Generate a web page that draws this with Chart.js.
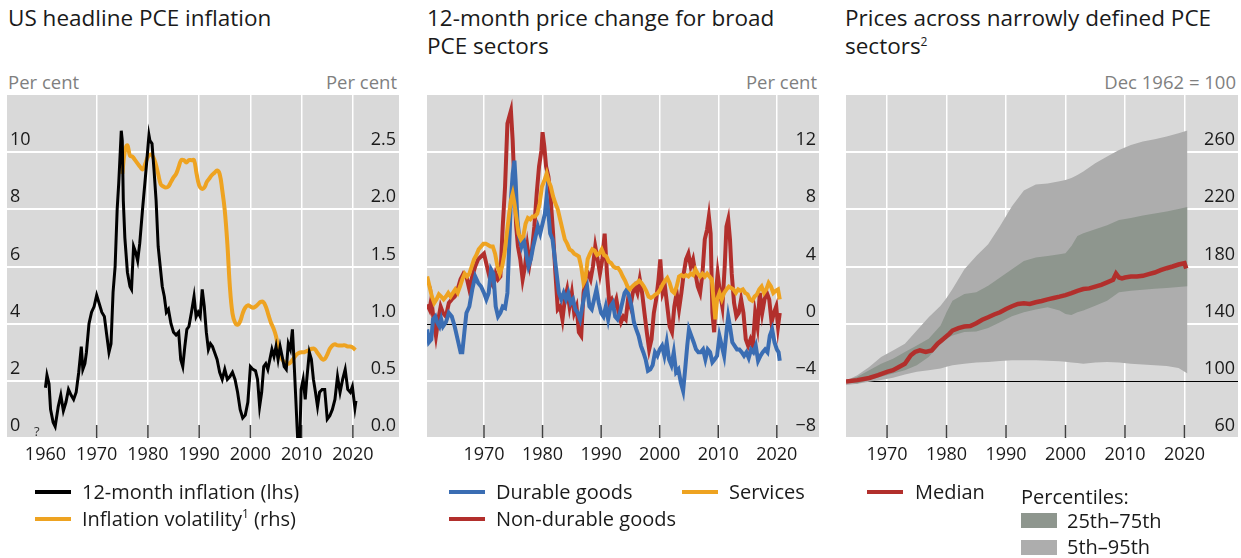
<!DOCTYPE html>
<html>
<head>
<meta charset="utf-8">
<script src="https://cdn.jsdelivr.net/npm/chart.js@4.4.1/dist/chart.umd.min.js"></script>
<style>
  body { margin: 0; width: 1241px; height: 558px; background: #fff; position: relative; overflow: hidden;
         font-family: "Open Sans", sans-serif; color: #1a1a1a; }
  .title { position: absolute; top: 4px; font-size: 22.5px; line-height: 28px; white-space: nowrap; }
  .unit { position: absolute; top: 69px; font-size: 18.5px; line-height: 26px; color: #7f7f7f; white-space: nowrap; }
  .box { position: absolute; top: 95px; width: 392px; height: 383px; }
  .leg { position: absolute; font-size: 20px; line-height: 26px; white-space: nowrap; }
  .sw { position: absolute; width: 36px; height: 4px; }
  .blk { position: absolute; width: 36px; height: 15px; }
  sup { font-size: 12px; line-height: 0; }
</style>
</head>
<body>

<div class="title" style="left:8px">US headline PCE inflation</div>
<div class="unit" style="left:8px">Per cent</div>
<div class="unit" style="right:844px">Per cent</div>
<div class="box" style="left:7px"><canvas id="c1" width="392" height="383"></canvas></div>
<div style="position:absolute;left:34px;top:422px;font-size:13px;color:#333">?</div>

<div class="title" style="left:427px">12-month price change for broad<br>PCE sectors</div>
<div class="unit" style="right:424px">Per cent</div>
<div class="box" style="left:427px"><canvas id="c2" width="392" height="383"></canvas></div>

<div class="title" style="left:845px">Prices across narrowly defined PCE<br>sectors<sup>2</sup></div>
<div class="unit" style="right:5px">Dec 1962 = 100</div>
<div class="box" style="left:846px"><canvas id="c3" width="392" height="383"></canvas></div>

<!-- legends -->
<div class="sw" style="left:35px;top:490px;background:#000"></div>
<div class="leg" style="left:82px;top:479px">12-month inflation (lhs)</div>
<div class="sw" style="left:35px;top:517px;background:#eea321"></div>
<div class="leg" style="left:82px;top:506px">Inflation volatility<sup>1</sup> (rhs)</div>

<div class="sw" style="left:449px;top:490px;background:#3a6db3"></div>
<div class="leg" style="left:496px;top:479px">Durable goods</div>
<div class="sw" style="left:682px;top:490px;background:#eea321"></div>
<div class="leg" style="left:729px;top:479px">Services</div>
<div class="sw" style="left:449px;top:517px;background:#b22f2c"></div>
<div class="leg" style="left:496px;top:506px">Non-durable goods</div>

<div class="sw" style="left:867px;top:490px;background:#b22f2c"></div>
<div class="leg" style="left:915px;top:479px">Median</div>
<div class="leg" style="left:1021px;top:484px">Percentiles:</div>
<div class="blk" style="left:1021px;top:513px;background:#8e968e"></div>
<div class="leg" style="left:1067px;top:508px">25th–75th</div>
<div class="blk" style="left:1021px;top:540px;background:#adadad"></div>
<div class="leg" style="left:1067px;top:534px">5th–95th</div>

<script>
// --- DATA ---
// panel 1: headline PCE inflation (lhs) and inflation volatility (rhs)
const inflYears = [1960.0, 1960.3, 1960.7, 1961.0, 1961.5, 1961.9, 1962.5, 1963.0, 1963.5, 1964.0, 1964.5, 1965.0, 1965.5, 1966.0, 1966.5, 1967.0, 1967.3, 1967.7, 1968.0, 1968.5, 1969.0, 1969.5, 1970.0, 1970.5, 1971.0, 1971.5, 1972.0, 1972.4, 1972.8, 1973.2, 1973.6, 1974.0, 1974.3, 1974.8, 1975.0, 1975.2, 1975.5, 1976.0, 1976.5, 1976.8, 1977.2, 1977.6, 1978.0, 1978.4, 1979.0, 1979.5, 1980.2, 1980.4, 1980.8, 1981.2, 1981.6, 1982.0, 1982.4, 1982.8, 1983.2, 1983.6, 1984.0, 1984.5, 1985.0, 1985.5, 1986.0, 1986.4, 1986.8, 1987.2, 1987.6, 1988.0, 1988.5, 1989.0, 1989.4, 1989.8, 1990.2, 1990.6, 1991.0, 1991.4, 1991.8, 1992.2, 1992.6, 1993.0, 1993.5, 1994.0, 1994.5, 1995.0, 1995.5, 1996.0, 1996.5, 1997.0, 1997.5, 1998.0, 1998.5, 1999.0, 1999.5, 2000.0, 2000.5, 2001.0, 2001.4, 2001.8, 2002.2, 2002.6, 2003.0, 2003.4, 2003.8, 2004.2, 2004.6, 2005.0, 2005.4, 2005.8, 2006.2, 2006.6, 2007.0, 2007.4, 2007.8, 2008.2, 2008.5, 2008.8, 2009.1, 2009.5, 2009.9, 2010.3, 2010.7, 2011.0, 2011.5, 2011.9, 2012.3, 2012.7, 2013.1, 2013.5, 2014.0, 2014.5, 2015.0, 2015.5, 2016.0, 2016.5, 2017.0, 2017.5, 2018.0, 2018.5, 2019.0, 2019.5, 2019.9, 2020.2, 2020.4, 2020.6];
const inflValues = [1.76, 2.2, 1.9, 1.0, 0.55, 0.4, 1.1, 1.5, 0.95, 1.25, 1.7, 1.5, 1.35, 1.6, 2.3, 3.2, 2.4, 2.6, 3.0, 4.0, 4.4, 4.6, 5.0, 4.7, 4.4, 4.25, 3.55, 3.0, 3.3, 5.1, 6.0, 8.0, 8.9, 10.75, 10.4, 8.3, 7.0, 5.8, 5.3, 5.2, 6.7, 6.5, 6.2, 6.8, 8.1, 9.1, 10.6, 10.4, 10.3, 9.35, 8.3, 6.7, 6.0, 5.3, 4.95, 4.4, 4.5, 4.0, 3.7, 3.6, 3.7, 2.75, 2.5, 3.2, 3.8, 3.9, 4.4, 4.95, 4.25, 4.4, 4.25, 5.2, 4.6, 3.7, 3.1, 3.3, 3.2, 3.0, 2.75, 2.3, 2.05, 2.4, 2.05, 2.15, 2.3, 2.05, 1.6, 1.0, 0.7, 0.8, 1.25, 2.5, 2.4, 2.35, 2.05, 1.1, 1.6, 2.5, 2.6, 2.4, 2.75, 3.1, 2.85, 3.2, 2.75, 3.2, 2.85, 2.5, 2.4, 3.3, 3.1, 3.8, 2.75, 1.6, 0.43, -1.0, 1.7, 2.05, 1.35, 2.05, 3.0, 2.75, 2.05, 1.6, 1.1, 1.6, 1.7, 1.7, 0.66, 0.78, 1.0, 1.35, 2.15, 1.6, 2.05, 2.4, 1.7, 1.6, 1.8, 1.35, 1.05, 1.3];

const volYears = [1975.0, 1975.5, 1976.0, 1976.5, 1977.0, 1977.5, 1978.0, 1978.5, 1979.0, 1979.5, 1980.0, 1980.5, 1981.0, 1981.5, 1982.0, 1982.5, 1983.0, 1983.5, 1984.0, 1984.5, 1985.0, 1985.5, 1986.0, 1986.5, 1987.0, 1987.5, 1988.0, 1988.5, 1989.0, 1989.5, 1990.0, 1990.5, 1991.0, 1991.5, 1992.0, 1992.5, 1993.0, 1993.5, 1994.0, 1994.5, 1995.0, 1995.5, 1996.0, 1996.5, 1997.0, 1997.5, 1998.0, 1998.5, 1999.0, 1999.5, 2000.0, 2000.5, 2001.0, 2001.5, 2002.0, 2002.5, 2003.0, 2003.5, 2004.0, 2004.5, 2005.0, 2005.5, 2006.0, 2006.5, 2007.0, 2007.5, 2008.0, 2008.5, 2009.0, 2009.5, 2010.0, 2010.5, 2011.0, 2011.5, 2012.0, 2012.5, 2013.0, 2013.5, 2014.0, 2014.5, 2015.0, 2015.5, 2016.0, 2016.5, 2017.0, 2017.5, 2018.0, 2018.5, 2019.0, 2019.5, 2020.0, 2020.5];
const volValues = [2.31, 2.51, 2.56, 2.47, 2.46, 2.43, 2.40, 2.37, 2.35, 2.40, 2.46, 2.48, 2.46, 2.40, 2.31, 2.22, 2.20, 2.19, 2.20, 2.24, 2.28, 2.31, 2.37, 2.43, 2.43, 2.41, 2.43, 2.43, 2.43, 2.31, 2.21, 2.18, 2.19, 2.24, 2.27, 2.30, 2.32, 2.34, 2.31, 2.17, 1.99, 1.70, 1.32, 1.09, 1.01, 0.99, 1.02, 1.09, 1.14, 1.16, 1.15, 1.14, 1.15, 1.17, 1.19, 1.19, 1.15, 1.08, 1.01, 0.96, 0.89, 0.77, 0.70, 0.67, 0.65, 0.65, 0.67, 0.70, 0.73, 0.745, 0.75, 0.75, 0.76, 0.77, 0.78, 0.78, 0.75, 0.72, 0.69, 0.69, 0.73, 0.78, 0.81, 0.82, 0.81, 0.81, 0.81, 0.81, 0.80, 0.80, 0.79, 0.77];

// panel 2: 12-month price change by broad sector
const durYears = [1960.3, 1960.6, 1961.0, 1961.3, 1961.7, 1962.0, 1962.4, 1962.7, 1963.0, 1963.5, 1964.0, 1964.5, 1965.0, 1965.5, 1966.0, 1966.3, 1966.7, 1967.0, 1967.5, 1968.0, 1968.5, 1969.0, 1969.5, 1970.0, 1970.4, 1970.8, 1971.2, 1971.6, 1972.0, 1972.4, 1972.8, 1973.2, 1973.6, 1974.0, 1974.3, 1974.6, 1974.9, 1975.2, 1975.4, 1975.7, 1976.0, 1976.4, 1976.8, 1977.2, 1977.6, 1978.0, 1978.4, 1978.8, 1979.2, 1979.6, 1980.0, 1980.4, 1980.7, 1981.0, 1981.3, 1981.7, 1982.0, 1982.4, 1982.8, 1983.2, 1983.6, 1984.0, 1984.4, 1984.8, 1985.2, 1985.6, 1986.0, 1986.4, 1986.8, 1987.2, 1987.6, 1988.0, 1988.4, 1988.8, 1989.2, 1989.6, 1990.0, 1990.4, 1990.8, 1991.2, 1991.6, 1992.0, 1992.4, 1992.8, 1993.2, 1993.6, 1994.0, 1994.4, 1994.8, 1995.2, 1995.6, 1996.0, 1996.4, 1996.8, 1997.2, 1997.6, 1998.0, 1998.4, 1998.8, 1999.2, 1999.6, 2000.0, 2000.4, 2000.8, 2001.2, 2001.6, 2002.0, 2002.4, 2002.8, 2003.2, 2003.6, 2004.0, 2004.3, 2004.7, 2005.0, 2005.4, 2005.8, 2006.2, 2006.6, 2007.0, 2007.4, 2007.8, 2008.2, 2008.6, 2009.0, 2009.4, 2009.8, 2010.2, 2010.6, 2011.0, 2011.4, 2011.7, 2012.0, 2012.4, 2012.8, 2013.2, 2013.6, 2014.0, 2014.4, 2014.8, 2015.2, 2015.6, 2016.0, 2016.4, 2016.8, 2017.2, 2017.6, 2018.0, 2018.4, 2018.8, 2019.2, 2019.6, 2020.0, 2020.3, 2020.5];
const durValues = [-0.4, -1.3, -1.1, 0.3, 0.5, 0.1, -0.2, 0.3, -0.2, 0.1, 0.75, 0.5, -0.2, -1.1, -2.0, -2.0, -0.4, 0.75, 1.2, 2.4, 3.3, 2.85, 2.6, 2.15, 1.7, 2.15, 3.8, 3.5, 1.2, 0.5, 0.75, 1.2, 1.1, 2.15, 5.4, 8.65, 10.5, 11.4, 10.0, 7.3, 6.1, 5.4, 5.9, 4.9, 4.0, 4.5, 5.4, 6.1, 6.8, 6.3, 7.0, 7.7, 8.9, 7.7, 6.3, 5.9, 4.9, 3.5, 2.15, 1.7, 2.15, 1.7, 2.15, 1.45, 1.7, 1.0, 0.75, 0.3, 1.2, 2.15, 2.6, 1.2, 1.0, 1.7, 2.4, 1.45, 0.75, 0.5, 1.2, 0.3, 1.2, 1.45, 0.5, 0.3, 0.75, 1.45, 2.15, 2.4, 1.9, 1.2, 0.1, -0.4, -0.85, -1.55, -2.0, -2.5, -3.3, -3.2, -2.9, -2.0, -2.25, -1.8, -1.55, -2.25, -1.3, -2.5, -2.9, -2.0, -3.4, -3.2, -4.1, -4.7, -3.4, -1.55, -0.4, -0.85, -1.3, -1.8, -2.0, -2.0, -1.8, -2.5, -1.8, -2.0, -2.7, -2.5, -2.25, -0.85, -1.55, -2.25, -0.6, 0.5, -0.2, -1.3, -1.55, -1.8, -1.8, -2.0, -2.25, -2.0, -2.4, -1.8, -2.0, -1.55, -2.6, -2.25, -2.0, -1.8, -2.0, -0.85, -0.4, -1.3, -1.8, -2.0, -2.6];

const nondurYears = [1960.3, 1960.7, 1961.0, 1961.4, 1961.8, 1962.2, 1962.6, 1963.0, 1963.5, 1964.0, 1964.5, 1965.0, 1965.5, 1966.0, 1966.5, 1967.0, 1967.5, 1968.0, 1968.5, 1969.0, 1969.5, 1970.0, 1970.4, 1970.8, 1971.2, 1971.6, 1972.0, 1972.4, 1972.8, 1973.2, 1973.6, 1974.0, 1974.3, 1974.6, 1974.9, 1975.2, 1975.5, 1975.8, 1976.2, 1976.6, 1977.0, 1977.4, 1977.8, 1978.2, 1978.6, 1979.0, 1979.4, 1979.8, 1980.0, 1980.3, 1980.6, 1981.0, 1981.4, 1981.8, 1982.2, 1982.6, 1983.0, 1983.4, 1983.8, 1984.2, 1984.6, 1985.0, 1985.4, 1985.8, 1986.2, 1986.6, 1987.0, 1987.4, 1987.8, 1988.2, 1988.6, 1989.0, 1989.4, 1989.8, 1990.2, 1990.6, 1991.0, 1991.4, 1991.8, 1992.2, 1992.6, 1993.0, 1993.4, 1993.8, 1994.2, 1994.6, 1995.0, 1995.4, 1995.8, 1996.2, 1996.6, 1997.0, 1997.4, 1997.8, 1998.2, 1998.6, 1999.0, 1999.4, 1999.8, 2000.1, 2000.5, 2000.9, 2001.3, 2001.7, 2002.1, 2002.5, 2002.9, 2003.3, 2003.7, 2004.1, 2004.5, 2004.9, 2005.3, 2005.7, 2006.1, 2006.5, 2006.9, 2007.3, 2007.7, 2008.1, 2008.4, 2008.7, 2009.0, 2009.3, 2009.6, 2009.9, 2010.3, 2010.7, 2011.1, 2011.4, 2011.7, 2012.0, 2012.3, 2012.7, 2013.1, 2013.5, 2013.9, 2014.3, 2014.7, 2015.1, 2015.5, 2015.9, 2016.3, 2016.7, 2017.1, 2017.5, 2017.9, 2018.3, 2018.7, 2019.1, 2019.5, 2019.9, 2020.2, 2020.5];
const nondurValues = [1.35, 1.0, 1.7, 0.3, -0.85, 0.3, 1.2, 0.75, 0.5, 1.45, 1.7, 1.9, 2.4, 3.1, 3.5, 3.3, 2.4, 3.3, 4.0, 4.5, 4.7, 4.9, 4.2, 3.5, 2.85, 2.6, 3.5, 3.1, 3.3, 6.8, 9.6, 14.0, 14.45, 14.9, 12.8, 9.6, 6.8, 5.4, 4.5, 3.1, 4.0, 5.4, 4.2, 5.2, 6.8, 9.1, 11.0, 12.1, 13.4, 12.4, 11.0, 10.3, 8.65, 6.3, 3.5, 1.0, 1.2, 0.3, 1.7, 2.4, 1.2, 2.15, 0.75, 1.2, -0.6, -0.85, 2.15, 3.3, 3.5, 3.1, 4.0, 5.4, 4.5, 3.5, 4.5, 6.3, 3.5, 1.45, 1.7, 1.2, 1.7, 0.75, 0.1, 0.5, 0.3, 1.7, 1.2, 2.15, 2.6, 2.15, 3.1, 2.15, 0.75, -0.6, -1.8, -1.1, 0.75, 1.7, 3.1, 4.5, 2.15, 2.6, 1.2, -0.2, -0.6, 1.2, 2.15, 1.0, 2.15, 3.5, 4.5, 4.9, 4.0, 4.5, 3.5, 2.6, 2.15, 3.5, 5.9, 6.6, 7.5, 6.3, 0.75, -0.6, 2.15, 3.5, 2.15, 1.2, 4.0, 6.8, 7.3, 5.9, 3.5, 1.45, 0.5, 0.75, 1.7, 0.75, -1.1, -1.55, -1.1, -1.55, 0.75, -0.2, 2.15, 0.75, 1.7, 2.15, 1.7, 0.1, 0.75, 1.2, -0.2, 0.75];

const servYears = [1960.3, 1960.7, 1961.1, 1961.5, 1961.9, 1962.3, 1962.7, 1963.1, 1963.5, 1963.9, 1964.3, 1964.7, 1965.1, 1965.5, 1965.9, 1966.3, 1966.7, 1967.1, 1967.5, 1967.9, 1968.3, 1968.7, 1969.1, 1969.5, 1969.9, 1970.3, 1970.7, 1971.1, 1971.5, 1971.9, 1972.3, 1972.7, 1973.1, 1973.5, 1973.9, 1974.3, 1974.6, 1974.9, 1975.2, 1975.5, 1975.9, 1976.3, 1976.7, 1977.1, 1977.5, 1977.9, 1978.3, 1978.7, 1979.1, 1979.5, 1979.9, 1980.3, 1980.7, 1981.0, 1981.4, 1981.8, 1982.2, 1982.6, 1983.0, 1983.4, 1983.8, 1984.2, 1984.6, 1985.0, 1985.4, 1985.8, 1986.2, 1986.6, 1987.0, 1987.3, 1987.7, 1988.1, 1988.5, 1988.9, 1989.3, 1989.7, 1990.1, 1990.5, 1990.9, 1991.3, 1991.7, 1992.1, 1992.5, 1992.9, 1993.3, 1993.7, 1994.1, 1994.5, 1994.9, 1995.3, 1995.7, 1996.1, 1996.5, 1996.9, 1997.3, 1997.7, 1998.1, 1998.5, 1998.9, 1999.3, 1999.7, 2000.1, 2000.5, 2000.9, 2001.3, 2001.7, 2002.1, 2002.5, 2002.9, 2003.3, 2003.7, 2004.1, 2004.5, 2004.9, 2005.3, 2005.7, 2006.1, 2006.5, 2006.9, 2007.3, 2007.7, 2008.1, 2008.5, 2008.9, 2009.2, 2009.5, 2009.8, 2010.2, 2010.6, 2011.0, 2011.4, 2011.8, 2012.2, 2012.6, 2013.0, 2013.4, 2013.8, 2014.2, 2014.6, 2015.0, 2015.4, 2015.8, 2016.2, 2016.6, 2017.0, 2017.4, 2017.8, 2018.2, 2018.6, 2019.0, 2019.4, 2019.8, 2020.2, 2020.5];
const servValues = [3.3, 2.6, 1.9, 1.45, 1.7, 2.05, 1.9, 1.7, 1.9, 2.15, 1.9, 2.15, 2.4, 2.15, 2.6, 3.1, 3.5, 3.3, 3.5, 4.0, 4.5, 4.8, 5.2, 5.4, 5.6, 5.6, 5.5, 5.4, 5.4, 4.9, 4.0, 3.5, 4.0, 4.9, 6.3, 7.7, 8.65, 9.1, 8.4, 7.5, 6.3, 5.9, 6.1, 7.0, 7.4, 7.3, 7.5, 7.5, 7.7, 8.4, 9.6, 10.0, 10.5, 10.0, 9.6, 8.9, 8.4, 8.0, 7.3, 6.6, 5.9, 5.6, 5.2, 5.1, 4.9, 4.8, 4.7, 4.0, 2.85, 3.1, 4.5, 4.9, 5.2, 5.1, 4.8, 4.9, 5.2, 4.8, 4.7, 4.35, 4.25, 4.0, 3.9, 3.9, 3.65, 3.3, 3.0, 2.6, 2.4, 2.6, 2.75, 2.85, 3.0, 2.85, 2.6, 2.3, 1.9, 1.8, 1.9, 2.05, 2.15, 2.4, 2.75, 3.0, 3.2, 2.85, 2.3, 2.15, 2.6, 3.3, 3.4, 3.3, 3.4, 3.3, 3.5, 3.4, 3.8, 3.5, 3.3, 3.5, 3.3, 3.5, 3.3, 3.1, 1.7, 0.3, 1.7, 2.15, 1.7, 2.15, 2.4, 2.6, 2.5, 2.4, 2.15, 2.4, 2.3, 2.4, 2.15, 2.05, 1.7, 1.6, 1.9, 2.05, 2.4, 2.6, 2.15, 2.4, 2.85, 2.6, 2.15, 2.3, 2.4, 1.7];

// panel 3: prices across narrow sectors, Dec 1962 = 100
const medYears = [1963.1, 1965, 1967, 1968.5, 1970, 1971, 1972, 1973, 1974, 1974.7, 1975.5, 1976.5, 1977.5, 1978.5, 1979.5, 1980.5, 1981, 1982, 1983, 1984, 1985, 1986, 1987, 1988, 1989, 1990, 1991, 1992, 1993, 1994, 1995, 1996, 1997, 1998, 1999, 2000, 2001, 2002, 2003, 2004, 2005, 2006, 2007, 2008, 2008.5, 2009, 2009.5, 2010, 2011, 2012, 2013, 2014, 2015, 2016, 2017, 2018, 2019, 2020, 2020.3];
const medValues = [99.5, 100.5, 102, 104, 106.3, 107.4, 109.7, 112, 117.9, 120.2, 121.3, 120.2, 121.3, 126, 129.4, 133, 135.2, 136.9, 138, 138.3, 140.3, 142.7, 144.5, 146.4, 148, 150.3, 152.2, 153.8, 154.3, 153.8, 155, 155.9, 157, 158, 158.9, 160, 161.4, 163, 164.2, 164.7, 165.9, 167.2, 168.9, 170.7, 175.1, 172.3, 171.7, 172.3, 173, 173, 173.5, 174.7, 175.8, 177.4, 178.8, 180, 181.4, 182.3, 178.6];

const bandYears = [1963.1, 1965, 1967, 1969, 1971, 1973, 1975, 1977, 1979, 1980, 1981, 1983, 1985, 1987, 1989, 1991, 1993, 1995, 1997, 1999, 2000, 2001, 2002, 2003, 2005, 2007, 2009, 2011, 2013, 2015, 2017, 2019, 2020.5];
const p75 = [100, 102.8, 107.4, 112, 115.5, 120.2, 124.8, 129.4, 138.7, 148, 156.1, 160.8, 161.9, 166.5, 172.3, 178.1, 183.9, 186.3, 187.4, 188.6, 189.3, 194.4, 201.3, 203.2, 206, 208.8, 212.5, 214, 215.6, 217, 218.5, 220.2, 221.7];
const p25 = [99, 98.1, 100.5, 102.8, 105.1, 107.4, 110.9, 116.7, 126, 129.4, 131.8, 134.1, 134.6, 136.9, 141, 145.2, 148, 149.9, 151.5, 149.2, 146.8, 146.1, 148, 149.2, 152.6, 156.1, 161.9, 163, 163.8, 164.5, 165, 165.6, 166.1];
const p95 = [100, 103.9, 109.7, 116.7, 121.3, 126, 135.2, 144.5, 152.6, 158, 164.2, 178.1, 187.4, 195.5, 208.3, 222.2, 233.1, 237.3, 238, 239.6, 240.5, 241.9, 244, 246.5, 252.3, 257, 261.6, 265.1, 267.4, 269, 270.9, 273.2, 275.1];
const p5 = [97, 98, 99.3, 100.5, 102.1, 104.4, 106.3, 107.4, 108.6, 109.8, 110.9, 112, 112.8, 113.2, 113.9, 114.4, 114.4, 114.4, 114.1, 113.7, 113.3, 112.8, 112.4, 112, 112.8, 113.2, 112.8, 112, 111.4, 110.9, 110.4, 109, 105.1];

// tick labels
const xTicks1 = [1960, 1970, 1980, 1990, 2000, 2010, 2020];
const xTicks23 = [1970, 1980, 1990, 2000, 2010, 2020];
const yTicksLeft1 = [0, 2, 4, 6, 8, 10, 12];
const yTicksRight1 = [0, 0.5, 1.0, 1.5, 2.0, 2.5, 3.0];
const yTicks2 = [-8, -4, 0, 4, 8, 12, 16];
const yTicks3 = [60, 100, 140, 180, 220, 260, 300];

// --- HELPERS ---
const pts = (xs, ys) => xs.map((x, i) => ({ x: x, y: ys[i] }));
const NONE = 'rgba(0,0,0,0)';

Chart.defaults.font.family = '"Open Sans", sans-serif';
Chart.defaults.font.size = 18;
Chart.defaults.color = '#1a1a1a';

// white horizontal grid lines as 2px bars at the y scale's ticks (top tick skipped)
function hGrid(chart, opts) {
    const a = chart.chartArea, ctx = chart.ctx;
    const y = chart.scales[opts.yAxis || 'y'];
    if (!y || !y.ticks.length) return;
    const top = y.ticks[y.ticks.length - 1].value;
    ctx.save();
    ctx.globalAlpha = 1;
    ctx.globalCompositeOperation = 'source-over';
    ctx.fillStyle = '#ffffff';
    y.ticks.forEach(t => {
        if (t.value === top || t.value === opts.refLine) return;
        const py = Math.round(y.getPixelForValue(t.value));
        ctx.fillRect(a.left, py - 1, a.right - a.left, 2);
    });
    ctx.restore();
}

// grey plot background, grid, reference line and short dark x tick marks inside the plot
const plotDecor = {
    id: 'plotDecor',
    beforeDraw(chart, args, opts) {
        const a = chart.chartArea, ctx = chart.ctx;
        ctx.save();
        ctx.fillStyle = '#d9d9d9';
        ctx.fillRect(a.left, a.top, a.right - a.left, a.bottom - a.top);
        ctx.restore();
        hGrid(chart, opts);
    },
    beforeDatasetsDraw(chart, args, opts) {
        hGrid(chart, opts);
        const a = chart.chartArea, ctx = chart.ctx;
        ctx.save();
        if (opts.refLine !== undefined) {
            const y = chart.scales[opts.yAxis || 'y'];
            const py = Math.round(y.getPixelForValue(opts.refLine));
            ctx.fillStyle = '#000';
            ctx.fillRect(a.left, py, a.right - a.left, 1);
        }
        const x = chart.scales.x;
        const skip = opts.skip || [];
        ctx.strokeStyle = '#404040';
        ctx.lineWidth = 1.5;
        x.ticks.forEach(t => {
            if (skip.includes(t.value)) return;
            const px = x.getPixelForValue(t.value);
            ctx.beginPath();
            ctx.moveTo(px, a.bottom);
            ctx.lineTo(px, a.bottom - 13);
            ctx.stroke();
        });
        ctx.restore();
    }
};

// no extra room around the axes: the plot fills the canvas, x labels get 40px
function noPad(s) {
    s.paddingTop = 0; s.paddingBottom = 0; s.paddingLeft = 0; s.paddingRight = 0;
}

function xScale(min, max, ticks, hide) {
    hide = hide || [];
    return {
        type: 'linear', min: min, max: max,
        afterBuildTicks: s => { s.ticks = ticks.map(v => ({ value: v })); },
        afterFit: s => { s.height = 40; noPad(s); },
        border: { display: false },
        grid: { drawTicks: false, lineWidth: 1.5,
                color: ticks.map(v => hide.includes(v) ? NONE : '#fff') },
        ticks: { padding: 6, maxRotation: 0, autoSkip: false, callback: v => String(v) }
    };
}

function yScale(position, ticks, fmt) {
    const top = ticks[ticks.length - 1];
    return {
        type: 'linear', position: position,
        min: ticks[0], max: top,
        afterBuildTicks: s => { s.ticks = ticks.map(v => ({ value: v })); },
        afterFit: s => { s.width = 0; noPad(s); },
        border: { display: false },
        grid: { display: false },
        ticks: { mirror: true, padding: position === 'left' ? 3 : -3, labelOffset: -12, autoSkip: false,
                 callback: v => v === top ? '' : fmt(v) }
    };
}

const baseOpts = {
    responsive: false,
    animation: false,
    layout: { padding: 0 },
    elements: { point: { radius: 0 } }
};
const noLegend = { legend: { display: false }, tooltip: { enabled: false } };

// --- PANEL 1 ---
new Chart(document.getElementById('c1'), {
    type: 'line',
    data: {
        datasets: [
            { data: pts(inflYears, inflValues), yAxisID: 'y', borderColor: '#000', borderWidth: 3, tension: 0 },
            { data: pts(volYears, volValues), yAxisID: 'y1', borderColor: '#eea321', borderWidth: 4, tension: 0.4 }
        ]
    },
    options: {
        ...baseOpts,
        plugins: { ...noLegend, plotDecor: { yAxis: 'y', skip: [1960] } },
        scales: {
            x: xScale(1952.5, 2029.0, xTicks1, [1960]),
            y: yScale('left', yTicksLeft1, v => String(v)),
            y1: yScale('right', yTicksRight1, v => v.toFixed(1))
        }
    },
    plugins: [plotDecor]
});

// --- PANEL 2 ---
const minus = v => (v < 0 ? '\u2212' + Math.abs(v) : String(v));
new Chart(document.getElementById('c2'), {
    type: 'line',
    data: {
        datasets: [
            { data: pts(servYears, servValues), borderColor: '#eea321', borderWidth: 4, tension: 0 },
            { data: pts(durYears, durValues), borderColor: '#3a6db3', borderWidth: 4, tension: 0 },
            { data: pts(nondurYears, nondurValues), borderColor: '#b22f2c', borderWidth: 4, tension: 0 }
        ]
    },
    options: {
        ...baseOpts,
        plugins: { ...noLegend, plotDecor: { yAxis: 'y', refLine: 0 } },
        scales: {
            x: xScale(1960.27, 2027.2, xTicks23),
            y: yScale('right', yTicks2, minus)
        }
    },
    plugins: [plotDecor]
});

// --- PANEL 3 ---
new Chart(document.getElementById('c3'), {
    type: 'line',
    data: {
        datasets: [
            { data: pts(medYears, medValues), borderColor: '#b22f2c', borderWidth: 4.5, tension: 0 },
            { data: pts(bandYears, p75), borderWidth: 0, borderColor: NONE, backgroundColor: '#8e968e', fill: '+1' },
            { data: pts(bandYears, p25), borderWidth: 0, borderColor: NONE },
            { data: pts(bandYears, p95), borderWidth: 0, borderColor: NONE, backgroundColor: '#adadad', fill: '+1' },
            { data: pts(bandYears, p5), borderWidth: 0, borderColor: NONE }
        ]
    },
    options: {
        ...baseOpts,
        plugins: { ...noLegend, plotDecor: { yAxis: 'y', refLine: 100 } },
        scales: {
            x: xScale(1963.1, 2029.0, xTicks23),
            y: yScale('right', yTicks3, v => String(v))
        }
    },
    plugins: [plotDecor]
});
</script>
</body>
</html>
